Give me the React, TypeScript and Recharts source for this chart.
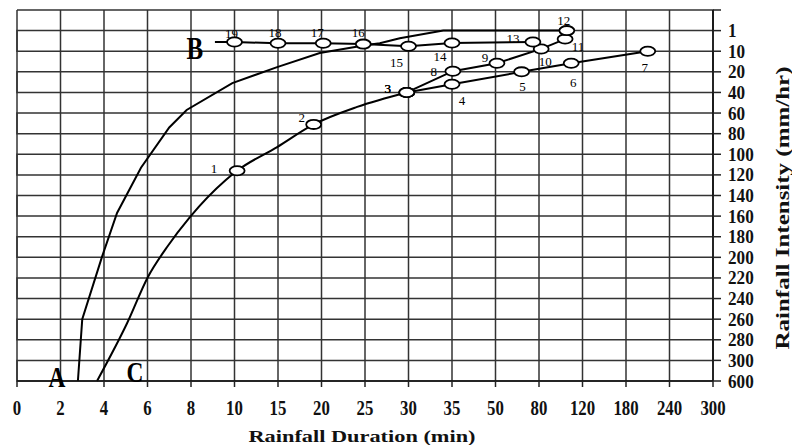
import React from 'react';
import { LineChart, Line, XAxis, YAxis, Customized } from 'recharts';

// Axis tick labels (equally spaced on the chart)
const durationTicks = [0, 2, 4, 6, 8, 10, 15, 20, 25, 30, 35, 50, 80, 120, 180, 240, 300];
const intensityTicks = [1, 10, 20, 40, 60, 80, 100, 120, 140, 160, 180, 200, 220, 240, 260, 280, 300, 600];

// Curve A (envelope)
const curveADuration = [2.8, 3.0, 3.9, 4.6, 5.7, 7.0, 7.8, 9.9, 14.9, 19.8, 25.2, 26.7, 29, 34, 105.6];
const curveAIntensity = [600, 260, 200, 157, 113, 74, 57, 31, 17.7, 10.9, 7.3, 6.5, 4.3, 1, 1];

// Curve C with points 1-3
const curveCDuration = [3.68, 5.06, 6.02, 6.9, 7.95, 9.6, 10.3, 14.9, 19.1, 24.1, 29.8];
const curveCIntensity = [600, 264, 219, 190, 161, 125, 116, 93, 71, 54, 40];
const curveCPoints = [null, null, null, null, null, null, 1, null, 2, null, 3];

// Lower branch: points 3-7
const lowerDuration = [29.8, 35, 68, 109.6, 210];
const lowerIntensity = [40, 32, 20, 15.8, 10];
const lowerPoints = [3, 4, 5, 6, 7];

// Upper branch: points 3, 8-12
const upperDuration = [29.8, 35.3, 51, 82, 104, 105.6];
const upperIntensity = [40, 19.7, 15.8, 9, 4.7, 1];
const upperPoints = [3, 8, 9, 10, 11, 12];

// Line B: points 19-13
const lineBDuration = [9.1, 10, 15, 20.2, 24.8, 30, 35, 75.8];
const lineBIntensity = [6, 6, 6.5, 6.5, 6.9, 7.8, 6.4, 6];
const lineBPoints = [null, 19, 18, 17, 16, 15, 14, 13];

// label placement (pixel offsets from the marker centre) – styling only
const labelOffset: Record<number, [number, number]> = {
  1: [-23, -2], 2: [-12, -7], 3: [-19, -4], 4: [10, 16], 5: [1, 15], 6: [2, 19], 7: [-3, 16],
  8: [-19, 0], 9: [-12, -6], 10: [4, 13], 11: [13, 7], 12: [-3, -10], 13: [-20, -4],
  14: [-12, 14], 15: [-12, 16], 16: [-5, -12], 17: [-6, -11], 18: [-3, -11], 19: [-3, -9],
};

// Equal-spacing axes: position 1 = first tick label; y position 1 = top border (one step above "1")
const X_OFF = 1;
const Y_OFF = 2;

function toIndex(v: number, ticks: number[]): number {
  const n = ticks.length;
  if (v <= ticks[0]) return (v - ticks[0]) / (ticks[1] - ticks[0]);
  for (let i = 0; i < n - 1; i++) {
    if (v <= ticks[i + 1]) return i + (v - ticks[i]) / (ticks[i + 1] - ticks[i]);
  }
  return n - 1 + (v - ticks[n - 1]) / (ticks[n - 1] - ticks[n - 2]);
}

function build(durs: number[], ints: number[], ids?: (number | null)[]) {
  return durs.map((d, i) => ({
    x: toIndex(d, durationTicks) + X_OFF,
    y: toIndex(ints[i], intensityTicks) + Y_OFF,
    id: ids ? ids[i] : null,
  }));
}

const dataA = build(curveADuration, curveAIntensity);
const dataC = build(curveCDuration, curveCIntensity, curveCPoints);
const dataLower = build(lowerDuration, lowerIntensity, lowerPoints);
const dataUpper = build(upperDuration, upperIntensity, upperPoints);
const dataB = build(lineBDuration, lineBIntensity, lineBPoints);

const xTickPos = durationTicks.map((_, i) => i + X_OFF);
const yTickPos = [Y_OFF - 1, ...intensityTicks.map((_, i) => i + Y_OFF)];
const X_DOMAIN: [number, number] = [xTickPos[0], xTickPos[xTickPos.length - 1]];
const Y_DOMAIN: [number, number] = [yTickPos[0], yTickPos[yTickPos.length - 1]];

// grid: one vertical line per x tick; horizontal lines as one serpentine path whose
// joins run along the left border and the right axis
const verticalGrid = xTickPos.map((i) => [{ x: i, y: Y_DOMAIN[0] }, { x: i, y: Y_DOMAIN[1] }]);
const horizontalGrid = yTickPos.flatMap((j, k) =>
  k % 2 === 0
    ? [{ x: X_DOMAIN[0], y: j }, { x: X_DOMAIN[1], y: j }]
    : [{ x: X_DOMAIN[1], y: j }, { x: X_DOMAIN[0], y: j }]
);

const serif = '"Liberation Serif", "DejaVu Serif", serif';

function makeDot(tag: string | null, tagDx: number, tagDy: number, tagSize: number) {
  return (props: any) => {
    const { cx, cy, index, payload } = props;
    const parts: React.ReactNode[] = [];
    if (payload && payload.id != null) {
      const off = labelOffset[payload.id] || [0, -10];
      parts.push(
        <ellipse key="e" cx={cx} cy={cy} rx={7.5} ry={4.6} fill="#fff" stroke="#000" strokeWidth={1.8} />
      );
      parts.push(
        <text key="t" x={cx + off[0]} y={cy + off[1] + 4.5} textAnchor="middle" fontFamily={serif}
          fontSize={13} fill="#000">{payload.id}</text>
      );
    }
    if (tag && index === 0) {
      parts.push(
        <text key="tag" transform={`translate(${cx + tagDx},${cy + tagDy}) scale(0.78,1)`} textAnchor="middle"
          fontFamily={serif} fontWeight="bold" fontSize={tagSize} fill="#000">{tag}</text>
      );
    }
    return <g key={`d-${index}`}>{parts}</g>;
  };
}

const XTick = (props: any) => {
  const { x, y, payload } = props;
  return (
    <text transform={`translate(${x},${y + 26}) scale(0.8,1)`} textAnchor="middle" fontFamily={serif}
      fontWeight="bold" fontSize={21} fill="#111">{durationTicks[payload.value - X_OFF]}</text>
  );
};

const YTick = (props: any) => {
  const { x, y, payload } = props;
  const label = intensityTicks[payload.value - Y_OFF];
  if (label === undefined) return <g />;
  return (
    <text transform={`translate(${x + 5},${y + 6.5}) scale(0.88,1)`} textAnchor="start" fontFamily={serif}
      fontWeight="bold" fontSize={19.5} fill="#111">{label}</text>
  );
};

const Titles = () => (
  <g>
    <text x={362} y={442} textAnchor="middle" fontFamily={serif} fontWeight="bold" fontSize={17}
      textLength={227} lengthAdjust="spacingAndGlyphs" fill="#111">Rainfall Duration (min)</text>
    <text transform="translate(789,208) rotate(-90)" textAnchor="middle" fontFamily={serif} fontWeight="bold"
      fontSize={18.5} textLength={283} lengthAdjust="spacingAndGlyphs" fill="#111">Rainfall Intensity (mm/hr)</text>
  </g>
);

export default function App() {
  return (
    <div style={{ position: 'absolute', left: 0, top: 0, background: '#fff' }}>
      <LineChart width={792} height={445} margin={{ top: 10, right: 0, bottom: 24, left: 17 }}>
        <XAxis type="number" dataKey="x" domain={X_DOMAIN} ticks={xTickPos} interval={0} height={40}
          axisLine={{ stroke: '#111', strokeWidth: 1.5 }} tickLine={{ stroke: '#222', strokeWidth: 1.5 }}
          tickSize={6} tick={<XTick />} />
        <YAxis type="number" dataKey="y" orientation="right" reversed domain={Y_DOMAIN} ticks={yTickPos}
          interval={0} width={79} axisLine={{ stroke: '#111', strokeWidth: 1.5 }}
          tickLine={{ stroke: '#222', strokeWidth: 1.5 }} tickSize={8} tick={<YTick />} />
        {verticalGrid.map((d, i) => (
          <Line key={`gv${i}`} data={d} dataKey="y" type="linear" stroke="#333" strokeWidth={1.5}
            dot={false} activeDot={false} isAnimationActive={false} />
        ))}
        <Line key="gh" data={horizontalGrid} dataKey="y" type="linear" stroke="#333" strokeWidth={1.5}
          dot={false} activeDot={false} isAnimationActive={false} />
        <Line data={dataA} dataKey="y" type="linear" stroke="#000" strokeWidth={2}
          dot={makeDot('A', -21, 6, 30)} activeDot={false} isAnimationActive={false} />
        <Line data={dataC} dataKey="y" type="monotone" stroke="#000" strokeWidth={2}
          dot={makeDot('C', 38, 1, 30)} activeDot={false} isAnimationActive={false} />
        <Line data={dataLower} dataKey="y" type="linear" stroke="#000" strokeWidth={2}
          dot={makeDot(null, 0, 0, 0)} activeDot={false} isAnimationActive={false} />
        <Line data={dataUpper} dataKey="y" type="linear" stroke="#000" strokeWidth={2}
          dot={makeDot(null, 0, 0, 0)} activeDot={false} isAnimationActive={false} />
        <Line data={dataB} dataKey="y" type="linear" stroke="#000" strokeWidth={2}
          dot={makeDot('B', -20, 17, 32)} activeDot={false} isAnimationActive={false} />
        <Customized component={Titles} />
      </LineChart>
    </div>
  );
}
